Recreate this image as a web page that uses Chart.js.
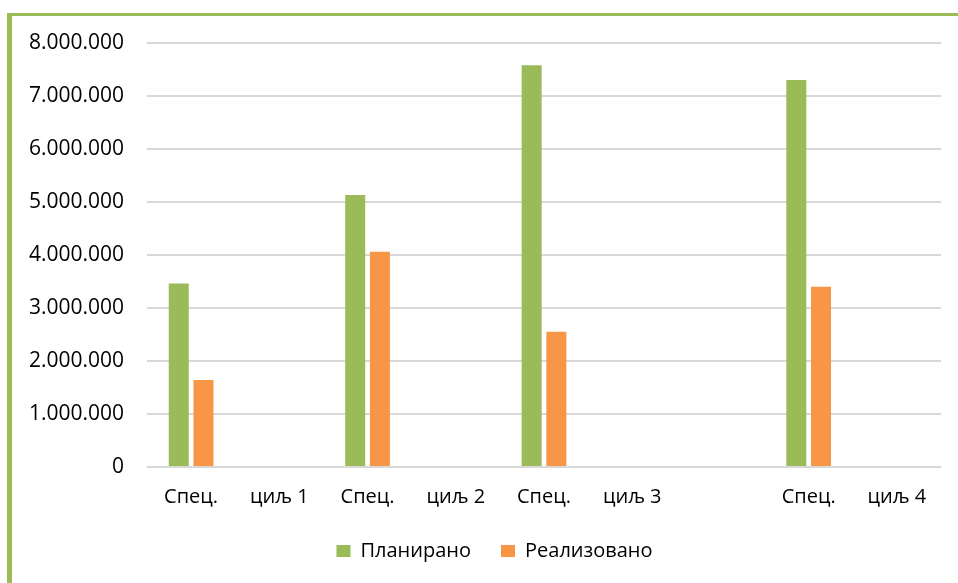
<!DOCTYPE html>
<html>
<head>
<meta charset="utf-8">
<script src="https://cdn.jsdelivr.net/npm/chart.js@4/dist/chart.umd.min.js"></script>
<style>
  html, body { margin: 0; padding: 0; background: #ffffff; overflow: hidden; width: 958px; height: 583px; }
  #frame { position: absolute; left: 7px; top: 13px; width: 1000px; height: 1000px;
           border-top: 3px solid #9BBB59; border-left: 5px solid #9BBB59; box-sizing: border-box; }
  #c { position: absolute; left: 0; top: 0; }
</style>
</head>
<body>
<div id="frame"></div>
<canvas id="c" width="958" height="583"></canvas>
<script>
const categories = ["Спец.", "циљ 1", "Спец.", "циљ 2", "Спец.", "циљ 3", "", "Спец.", "циљ 4"];
const seriesNames = ["Планирано", "Реализовано"];
const planned  = [3460000, null, 5130000, null, 7580000, null, null, 7300000, null];
const realized = [1640000, null, 4060000, null, 2550000, null, null, 3400000, null];
const yMin = 0, yMax = 8000000, yStep = 1000000;

const fmt = v => String(Math.round(v)).replace(/\B(?=(\d{3})+(?!\d))/g, ".");
const FAMILY = "'Open Sans', 'Noto Sans', sans-serif";
const FONT = { family: FAMILY, size: 20 };
const YFONT = { family: FAMILY, size: 21 };

const legendShift = {
  id: 'legendShift',
  afterLayout(chart) {
    const lg = chart.legend;
    if (lg) { lg.left += 24; lg.right += 24; }
  }
};

new Chart(document.getElementById('c'), {
  type: 'bar',
  data: {
    labels: categories,
    datasets: [
      { label: seriesNames[0], data: planned, backgroundColor: '#9BBB59', borderWidth: 0 },
      { label: seriesNames[1], data: realized, backgroundColor: '#F79646', borderWidth: 0 }
    ]
  },
  plugins: [legendShift],
  options: {
    responsive: false,
    devicePixelRatio: 1,
    animation: false,
    categoryPercentage: 0.56,
    barPercentage: 0.81,
    layout: { padding: { left: 0, right: 17, top: 43, bottom: 12 } },
    plugins: {
      tooltip: { enabled: false },
      legend: {
        position: 'bottom',
        labels: { color: '#000', font: FONT, boxWidth: 14, boxHeight: 12, padding: 30 }
      }
    },
    scales: {
      x: {
        grid: { display: false, drawTicks: false },
        border: { display: false },
        ticks: { color: '#000', font: FONT, padding: 18, autoSkip: false, maxRotation: 0 },
        afterFit: s => { s.height = 44; }
      },
      y: {
        min: yMin, max: yMax,
        grid: { color: '#D9D9D9', lineWidth: 2, drawTicks: false },
        border: { display: false },
        ticks: { stepSize: yStep, color: '#000', font: YFONT, padding: 23, callback: v => fmt(v) },
        afterFit: s => { s.width = 147; }
      }
    }
  }
});
</script>
</body>
</html>
